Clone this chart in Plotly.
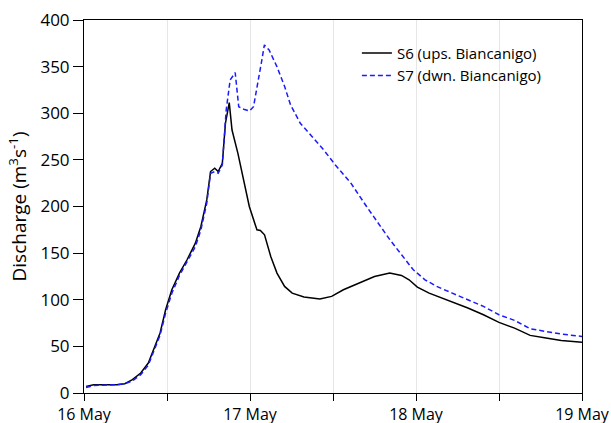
import pandas as pd
import plotly.graph_objects as go

# hours after 16 May 00:00
s6_hours = [0.3, 1.4, 4.8, 5.9, 7.0, 8.2, 9.3, 10.1, 11.0, 11.8, 12.7, 13.8, 14.9, 16.1, 16.9,
            17.75, 18.3, 18.9, 19.4, 20.0, 20.45, 21.0, 21.4, 22.25, 23.1, 23.9, 25.0, 25.5, 26.1,
            27.0, 27.9, 29.0, 30.1, 31.8, 34.1, 35.8, 37.5, 39.7, 42.0, 44.2, 45.9, 47.0, 48.2,
            49.9, 52.7, 55.5, 57.75, 60.0, 62.25, 64.5, 66.8, 69.0, 72.0]
s6_values = [7.1, 8.9, 8.9, 10, 14.3, 21.4, 32.1, 46.4, 64.3, 89.3, 110.7, 128.6, 142.9, 160.7, 178.6,
             207.1, 237.5, 241, 237.5, 246.4, 289.3, 311.4, 282, 257, 228.6, 200, 175, 174.3, 169.6,
             146.4, 128.6, 114.3, 107.1, 102.9, 100.7, 103.6, 110.7, 117.9, 125, 128.6, 126.1, 121.4, 113.6,
             107.1, 99.3, 91.1, 83.9, 75.7, 69.6, 61.8, 58.9, 56.4, 54.3]

s7_hours = [0.3, 1.4, 4.8, 5.9, 7.0, 8.2, 9.3, 10.1, 11.0, 11.8, 12.7, 13.8, 14.9, 16.1, 16.9,
            17.75, 18.3, 18.9, 19.4, 20.0, 20.56, 21.13, 21.86, 22.37, 23.1, 23.94, 24.51, 25.07,
            25.63, 26.08, 26.76, 27.89, 29.01, 29.86, 31.27, 32.96, 34.65, 36.34, 38.59, 40.85,
            42.54, 44.23, 45.92, 47.61, 49.3, 50.99, 53.24, 55.49, 57.75, 60.0, 62.25, 64.51,
            66.76, 69.01, 72.0]
s7_values = [6, 8, 9, 10, 12.9, 19.6, 30, 44.6, 62, 85.7, 107, 126, 141, 157, 175,
             203.6, 235.7, 237.5, 235.7, 244.6, 303.6, 335.7, 343.6, 307, 304.3, 302.5, 307, 328.6,
             353.6, 373.2, 367.9, 350, 328.6, 309, 289.3, 275, 260.7, 244.6, 225, 200,
             182.1, 164.3, 148.2, 132.1, 121.4, 114.3, 107.1, 100, 92.9, 83.9, 77.9, 68.9,
             66.1, 63.2, 60.7]

tick_hours = [0, 24, 48, 72]
tick_labels = ["16 May", "17 May", "18 May", "19 May"]
y_ticks = [0, 50, 100, 150, 200, 250, 300, 350, 400]

base = pd.Timestamp("2000-05-16 00:00")
def to_dt(h):
    return base + pd.to_timedelta(pd.Series(h), unit="h")

fig = go.Figure()
fig.add_trace(go.Scatter(x=to_dt(s6_hours), y=s6_values, mode="lines",
                         name="S6 (ups. Biancanigo)",
                         line=dict(color="black", width=1.5)))
fig.add_trace(go.Scatter(x=to_dt(s7_hours), y=s7_values, mode="lines",
                         name="S7 (dwn. Biancanigo)",
                         line=dict(color="#1a1aff", width=1.5, dash="5px,3px")))

font = dict(family="Open Sans, Noto Sans, sans-serif", size=15, color="black")
fig.update_layout(
    width=611, height=423,
    margin=dict(l=84, r=29, t=20, b=30, autoexpand=False),
    plot_bgcolor="white", paper_bgcolor="white",
    font=font,
    showlegend=True,
    legend=dict(x=0.548, y=0.955, xanchor="left", yanchor="top",
                bgcolor="rgba(0,0,0,0)", font=dict(size=15), itemwidth=30,
                tracegroupgap=0),
)
fig.update_xaxes(
    type="date", automargin=False, ticklabeloverflow="allow",
    range=[base, base + pd.Timedelta(hours=72)],
    tickvals=list(to_dt(tick_hours)), ticktext=tick_labels,
    ticks="outside", ticklen=7, tickcolor="black",
    showline=True, linecolor="black", linewidth=1, mirror=True,
    showgrid=True, gridcolor="#e6e6e6", gridwidth=1,
    minor=dict(dtick=43200000, tick0=base, ticks="outside", ticklen=7,
               tickcolor="black", showgrid=True, gridcolor="#e6e6e6"),
    zeroline=False, tickfont=dict(size=16),
)
fig.update_yaxes(
    automargin=False,
    range=[0, 400], tickvals=y_ticks,
    ticks="outside", ticklen=10, tickcolor="black",
    showline=True, linecolor="black", linewidth=1, mirror=True,
    showgrid=False, zeroline=False, tickfont=dict(size=17),
    title=dict(text="Discharge (m<sup>3</sup>s<sup>-1</sup>)", font=dict(size=19), standoff=8),
)

fig.write_html("out.html")
